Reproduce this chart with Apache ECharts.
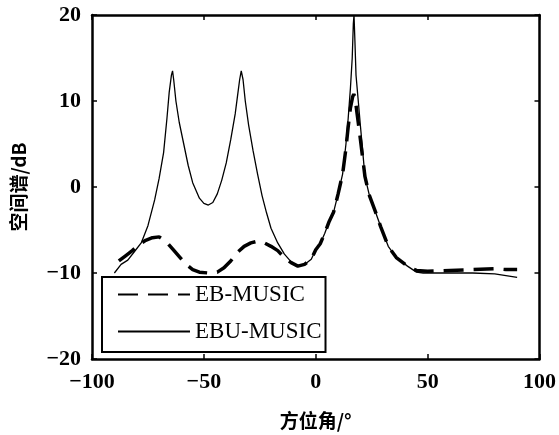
<!DOCTYPE html>
<html>
<head>
<meta charset="utf-8">
<script src="https://cdn.jsdelivr.net/npm/echarts@6/dist/echarts.min.js"></script>
<style>
  html, body { margin: 0; padding: 0; background: #fff; }
  #myChart { width: 559px; height: 435px; }
</style>
</head>
<body>
<div id="myChart"></div>
<script>
// 数据
var seriesNames = ['EB-MUSIC', 'EBU-MUSIC']

// EBU-MUSIC 实线
var angleSolid = [-90, -87, -84, -81, -78, -75, -72, -70, -68, -66.5, -65.5, -64.5, -64, -63.5, -62.5, -61, -59, -57, -55, -52, -50, -48, -46, -44, -42, -40, -38, -36, -35, -34, -33.3, -32.5, -31.5, -30, -28, -26, -24, -22, -20, -17, -14, -11, -8, -5, -2, 0, 2, 4, 6, 8, 10, 12, 13.5, 14.5, 15.5, 16.3, 16.8, 17.1, 17.5, 18, 19, 20, 22, 24, 26.7, 29, 32.4, 36, 41, 45, 48, 60, 70, 80, 85, 90]
var specSolid = [-10, -9, -8.5, -7.5, -6.5, -4.5, -1.5, 1, 4, 8, 11, 13, 13.5, 12.5, 10, 7.5, 5, 2.5, 0.5, -1.3, -1.9, -2.1, -1.8, -0.8, 0.8, 2.8, 5.5, 8.5, 10.5, 12.5, 13.5, 12.5, 10, 7.2, 4.2, 1.5, -1, -3, -4.8, -6.5, -7.8, -8.7, -9.2, -9.0, -8.4, -7.3, -6.6, -5.4, -4, -2.9, -0.8, 1.5, 5, 8, 11.5, 15, 19, 20, 17, 13, 10, 7, 1.2, -1, -2.9, -4.6, -6.9, -8.2, -9.2, -9.9, -10, -10, -10, -10.1, -10.3, -10.5]

// EB-MUSIC 虚线
var angleDash = [-88, -85, -82, -79, -76, -73, -70, -67, -64, -61, -58, -55, -52, -48, -44, -41, -38, -35, -32, -29, -26, -23, -20, -17, -14, -11, -8, -5, -2, 0, 2, 4, 6, 8, 10, 12, 13.5, 14.5, 15.5, 16.5, 17, 17.5, 18.5, 19.5, 22, 24, 26.7, 29, 32.4, 36, 41, 45, 50, 60, 70, 80, 85, 90]
var specDash = [-8.6, -8, -7.4, -6.7, -6.2, -5.9, -5.8, -6.3, -7.2, -8.1, -9, -9.6, -9.9, -10, -9.9, -9.4, -8.6, -7.6, -6.9, -6.5, -6.3, -6.5, -6.9, -7.4, -8.2, -8.8, -9.2, -9.0, -8.4, -7.3, -6.6, -5.4, -4, -2.9, -0.8, 1.5, 4.5, 7, 9.2, 10.5, 10.8, 10.5, 8.5, 6.5, 1.2, -1, -2.9, -4.6, -6.9, -8.2, -9.2, -9.7, -9.8, -9.7, -9.6, -9.5, -9.6, -9.6]

var xTicks = [-100, -50, 0, 50, 100]
var yTicks = [-20, -10, 0, 10, 20]

var zip = function(xs, ys) {
  return xs.map(function(x, i) { return [x, ys[i]] })
}
var minus = function(v) { return String(v).replace('-', '\u2212') }

var tickFont = { fontFamily: 'Liberation Serif', fontWeight: 'bold', fontSize: 22, color: '#000' }
var nameFont = { fontFamily: 'Noto Sans CJK SC', fontWeight: 'bold', fontSize: 19, color: '#000' }
var axisLine = { show: true, onZero: false, lineStyle: { color: '#000', width: 2.5 } }
var axisTick = { show: true, inside: true, length: 5, lineStyle: { color: '#000', width: 1.5 } }

var chart = echarts.init(document.getElementById('myChart'))
var option = {
  animation: false,
  backgroundColor: '#fff',
  grid: { left: 92, right: 15, top: 15, bottom: 76 },
  legend: {
    orient: 'vertical',
    left: 102,
    top: 277,
    padding: [6, 4, 9, 15],
    itemGap: 14,
    itemWidth: 72,
    itemHeight: 14,
    borderColor: '#000',
    borderWidth: 2,
    backgroundColor: '#fff',
    itemStyle: { opacity: 0 },
    textStyle: { fontFamily: 'Liberation Serif', fontSize: 23, lineHeight: 23, color: '#000' },
    data: seriesNames,
    z: 10
  },
  xAxis: [{
    type: 'value',
    min: xTicks[0], max: xTicks[xTicks.length - 1], interval: 50,
    name: '方位角/°',
    nameLocation: 'middle',
    nameGap: 52,
    nameTextStyle: nameFont,
    axisLine: axisLine, axisTick: axisTick,
    axisLabel: Object.assign({ margin: 12, formatter: minus }, tickFont),
    splitLine: { show: false }
  }, {
    type: 'value', position: 'top',
    min: xTicks[0], max: xTicks[xTicks.length - 1], interval: 50,
    axisLine: axisLine, axisTick: axisTick,
    axisLabel: { show: false }, splitLine: { show: false }
  }],
  yAxis: [{
    type: 'value',
    min: yTicks[0], max: yTicks[yTicks.length - 1], interval: 10,
    name: '空间谱/dB',
    nameLocation: 'middle',
    nameGap: 64,
    nameTextStyle: nameFont,
    axisLine: axisLine, axisTick: axisTick,
    axisLabel: Object.assign({ margin: 11, formatter: minus }, tickFont),
    splitLine: { show: false }
  }, {
    type: 'value', position: 'right',
    min: yTicks[0], max: yTicks[yTicks.length - 1], interval: 10,
    axisLine: axisLine, axisTick: axisTick,
    axisLabel: { show: false }, splitLine: { show: false }
  }],
  series: [{
    name: seriesNames[0],
    type: 'line',
    data: zip(angleDash, specDash),
    showSymbol: false,
    symbol: 'none',
    color: '#000',
    lineStyle: { color: '#000', width: 3.5, type: [20, 10] },
    z: 3
  }, {
    name: seriesNames[1],
    type: 'line',
    data: zip(angleSolid, specSolid),
    showSymbol: false,
    symbol: 'none',
    color: '#000',
    lineStyle: { color: '#000', width: 1.3 },
    z: 4
  }]
}
chart.setOption(option)
</script>
</body>
</html>
